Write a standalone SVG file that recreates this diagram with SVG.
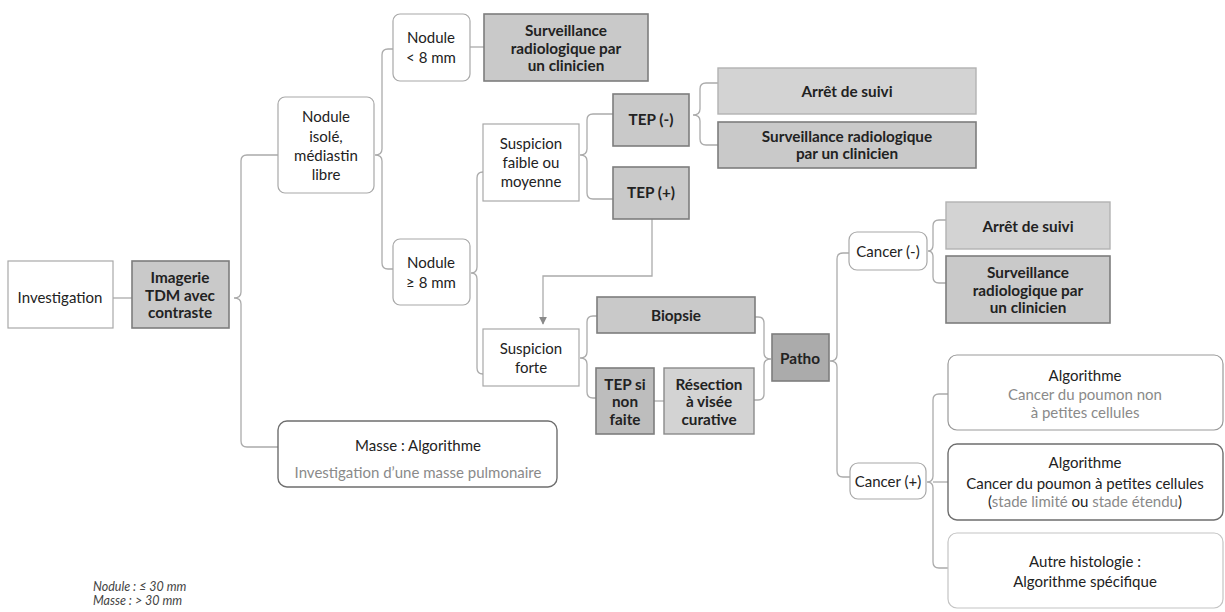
<svg xmlns="http://www.w3.org/2000/svg" width="1225" height="612" viewBox="0 0 1225 612">
  <style>
    text { font-family: Lato, "Open Sans", "Liberation Sans", sans-serif; font-size: 15px; fill: #222; text-anchor: middle; }
    .b { font-weight: bold; font-size: 15.3px; }
    .g { fill: #8a8a8a; }
    .note { font-size: 12.5px; font-style: italic; fill: #444; text-anchor: start; }
    .plain { fill: #fff; stroke: #a8a8a8; stroke-width: 1.2; }
    .round { fill: #fff; stroke: #a8a8a8; stroke-width: 1.2; }
    .dark-out { fill: #fff; stroke: #6e6e6e; stroke-width: 1.4; }
    .light-out { fill: #fff; stroke: #c4c4c4; stroke-width: 1.2; }
    .grey { fill: #c9c9c9; stroke: #7d7d7d; stroke-width: 1.6; }
    .pale { fill: #d3d3d3; stroke: #b2b2b2; stroke-width: 1.4; }
    .mid { fill: #bdbdbd; stroke: #7d7d7d; stroke-width: 1.6; }
    .deep { fill: #ababab; stroke: #7d7d7d; stroke-width: 1.6; }
    .link { fill: none; stroke: #ababab; stroke-width: 1.3; }
  </style>
  <defs>
    <marker id="arrow" viewBox="0 0 10 10" refX="9" refY="5" markerWidth="8" markerHeight="8" markerUnits="userSpaceOnUse" orient="auto">
      <path d="M0,0 L10,5 L0,10 Z" fill="#8a8a8a"/>
    </marker>
  </defs>

  <!-- connectors -->
  <g id="connectors">
    <line class="link" x1="113" y1="298" x2="132" y2="298"/>
    <line class="link" x1="470" y1="47" x2="484" y2="47"/>
    <line class="link" x1="654" y1="401" x2="664" y2="401"/>
    <!-- Imagerie -> Nodule isolé / Masse -->
    <path class="link" d="M278,155 H247 Q241,155 241,161 V292 Q241,298 234,298 Q241,298 241,304 V441 Q241,447 247,447 H278"/>
    <!-- Nodule isolé -> < 8 mm / ≥ 8 mm -->
    <path class="link" d="M393,49 H388 Q382,49 382,55 V149 Q382,155 375,155 Q382,155 382,161 V263 Q382,269 388,269 H393"/>
    <!-- Nodule ≥ 8 mm -> suspicion -->
    <path class="link" d="M483,172 H483 Q477,172 477,178 V267 Q477,273 471,273 Q477,273 477,279 V368 Q477,374 483,374"/>
    <!-- Suspicion faible -> TEP -->
    <path class="link" d="M613,114 H593 Q587,114 587,120 V149 Q587,155 580,155 Q587,155 587,161 V193 Q587,199 593,199 H613"/>
    <!-- TEP (-) -> issues -->
    <path class="link" d="M718,83 H706 Q700,83 700,89 V109 Q700,115 693,115 Q700,115 700,121 V139 Q700,145 706,145 H718"/>
    <!-- Suspicion forte -> Biopsie / TEP si non faite -->
    <path class="link" d="M597,316 H593 Q587,316 587,322 V352 Q587,358 580,358 Q587,358 587,364 V392 Q587,398 593,398 H596"/>
    <!-- Biopsie / Résection -> Patho -->
    <path class="link" d="M755,317 H758 Q764,317 764,323 V353 Q764,359 771,359 Q764,359 764,365 V394 Q764,400 758,400 H754"/>
    <!-- Patho -> Cancer -->
    <path class="link" d="M849,253 H843 Q837,253 837,259 V355 Q837,361 830,361 Q837,361 837,367 V471 Q837,477 843,477 H850"/>
    <!-- Cancer (-) -> issues -->
    <path class="link" d="M946,220 H939 Q933,220 933,226 V245 Q933,251 928,251 Q933,251 933,257 V277 Q933,283 939,283 H946"/>
    <!-- Cancer (+) -> algorithmes -->
    <path class="link" d="M948,394 H939 Q933,394 933,400 V476 Q933,482 927,482 Q933,482 933,488 V562 Q933,568 939,568 H948"/>
    <line class="link" x1="933" y1="482" x2="948" y2="482"/>
    <!-- TEP (+) -> Suspicion forte -->
    <path class="link" d="M652,219 V276 H543 V324" marker-end="url(#arrow)"/>
  </g>

  <g id="investigation">
    <rect class="plain" x="8" y="261" width="105" height="67"/>
    <text x="60" y="303">Investigation</text>
  </g>
  <g id="imagerie">
    <rect class="grey" x="132" y="261" width="97" height="67"/>
    <text class="b" x="180" y="283">Imagerie</text>
    <text class="b" x="180" y="301">TDM avec</text>
    <text class="b" x="180" y="318">contraste</text>
  </g>
  <g id="nodule-isole">
    <rect class="round" x="278" y="97" width="96" height="96" rx="7"/>
    <text x="326" y="122">Nodule</text>
    <text x="326" y="142">isolé,</text>
    <text x="326" y="161">médiastin</text>
    <text x="326" y="180">libre</text>
  </g>
  <g id="nodule-petit">
    <rect class="round" x="393" y="14" width="77" height="67" rx="7"/>
    <text x="431" y="43">Nodule</text>
    <text x="431" y="63">&lt; 8 mm</text>
  </g>
  <g id="surveillance-1">
    <rect class="grey" x="484" y="14" width="164" height="67"/>
    <text class="b" x="566" y="36">Surveillance</text>
    <text class="b" x="566" y="54">radiologique par</text>
    <text class="b" x="566" y="71">un clinicien</text>
  </g>
  <g id="nodule-grand">
    <rect class="round" x="393" y="239" width="77" height="66" rx="7"/>
    <text x="431" y="268">Nodule</text>
    <text x="431" y="288">≥ 8 mm</text>
  </g>
  <g id="suspicion-faible">
    <rect class="plain" x="483" y="124" width="96" height="77"/>
    <text x="531" y="149">Suspicion</text>
    <text x="531" y="168">faible ou</text>
    <text x="531" y="187">moyenne</text>
  </g>
  <g id="tep-neg">
    <rect class="grey" x="613" y="94" width="76" height="52"/>
    <text class="b" x="651" y="125">TEP (-)</text>
  </g>
  <g id="tep-pos">
    <rect class="grey" x="613" y="167" width="76" height="52"/>
    <text class="b" x="651" y="198">TEP (+)</text>
  </g>
  <g id="arret-1">
    <rect class="pale" x="718" y="68" width="258" height="46"/>
    <text class="b" x="847" y="97">Arrêt de suivi</text>
  </g>
  <g id="surveillance-2">
    <rect class="grey" x="718" y="122" width="258" height="46"/>
    <text class="b" x="847" y="142">Surveillance radiologique</text>
    <text class="b" x="847" y="159">par un clinicien</text>
  </g>
  <g id="suspicion-forte">
    <rect class="plain" x="483" y="329" width="96" height="57"/>
    <text x="531" y="354">Suspicion</text>
    <text x="531" y="373">forte</text>
  </g>
  <g id="biopsie">
    <rect class="grey" x="597" y="297" width="158" height="36"/>
    <text class="b" x="676" y="321">Biopsie</text>
  </g>
  <g id="tep-si">
    <rect class="mid" x="596" y="368" width="58" height="66"/>
    <text class="b" x="625" y="390">TEP si</text>
    <text class="b" x="625" y="407">non</text>
    <text class="b" x="625" y="425">faite</text>
  </g>
  <g id="resection">
    <rect class="pale" x="664" y="368" width="90" height="66" style="stroke:#8a8a8a"/>
    <text class="b" x="709" y="390">Résection</text>
    <text class="b" x="709" y="407">à visée</text>
    <text class="b" x="709" y="425">curative</text>
  </g>
  <g id="patho">
    <rect class="deep" x="772" y="334" width="57" height="47"/>
    <text class="b" x="800" y="364">Patho</text>
  </g>
  <g id="cancer-neg">
    <rect class="round" x="849" y="232" width="78" height="38" rx="8"/>
    <text x="888" y="257">Cancer (-)</text>
  </g>
  <g id="arret-2">
    <rect class="pale" x="946" y="202" width="164" height="47"/>
    <text class="b" x="1028" y="232">Arrêt de suivi</text>
  </g>
  <g id="surveillance-3">
    <rect class="grey" x="946" y="256" width="164" height="67"/>
    <text class="b" x="1028" y="278">Surveillance</text>
    <text class="b" x="1028" y="296">radiologique par</text>
    <text class="b" x="1028" y="313">un clinicien</text>
  </g>
  <g id="cancer-pos">
    <rect class="round" x="850" y="463" width="76" height="36" rx="8"/>
    <text x="888" y="487">Cancer (+)</text>
  </g>
  <g id="algo-cpnpc">
    <rect class="round" x="948" y="355" width="275" height="75" rx="9" style="stroke:#9a9a9a"/>
    <text x="1085" y="381">Algorithme</text>
    <text class="g" x="1085" y="400">Cancer du poumon non</text>
    <text class="g" x="1085" y="418">à petites cellules</text>
  </g>
  <g id="algo-cpc">
    <rect class="dark-out" x="948" y="444" width="275" height="76" rx="9"/>
    <text x="1085" y="468">Algorithme</text>
    <text x="1085" y="489">Cancer du poumon à petites cellules</text>
    <text x="1085" y="507">(<tspan class="g">stade limité</tspan> ou <tspan class="g">stade étendu</tspan>)</text>
  </g>
  <g id="autre-histologie">
    <rect class="light-out" x="948" y="533" width="275" height="75" rx="9"/>
    <text x="1085" y="567">Autre histologie :</text>
    <text x="1085" y="587">Algorithme spécifique</text>
  </g>
  <g id="masse">
    <rect class="dark-out" x="278" y="421" width="279" height="66" rx="9"/>
    <text x="418" y="451">Masse : Algorithme</text>
    <text class="g" x="418" y="478">Investigation d’une masse pulmonaire</text>
  </g>

  <g id="legende">
    <text class="note" x="93" y="591">Nodule : ≤ 30 mm</text>
    <text class="note" x="93" y="605">Masse : &gt; 30 mm</text>
  </g>
</svg>
